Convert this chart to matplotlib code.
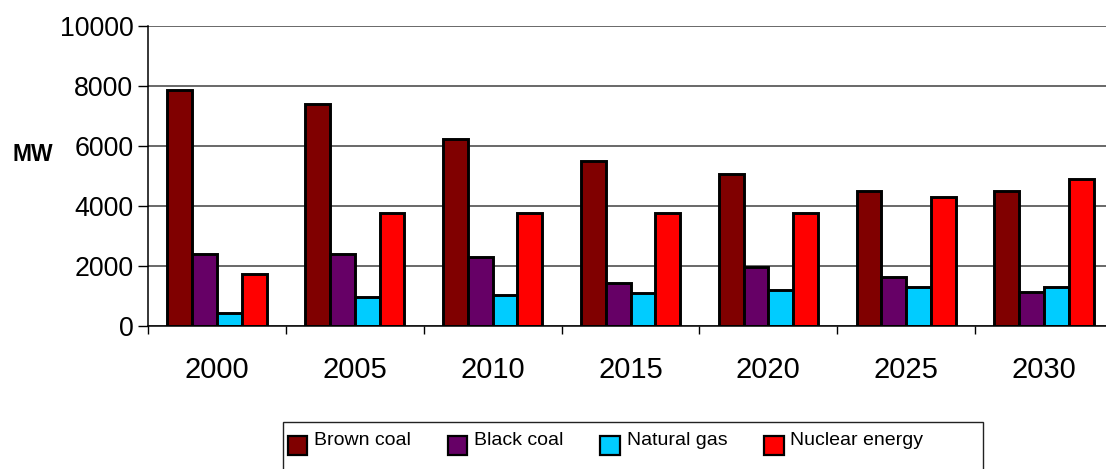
import matplotlib.pyplot as plt
import numpy as np
from matplotlib.patches import Patch, Rectangle
from matplotlib.legend_handler import HandlerPatch

plt.rcParams["font.family"] = ["Liberation Sans", "DejaVu Sans"]

years = ["2000", "2005", "2010", "2015", "2020", "2025", "2030"]
brown_coal = [7850, 7400, 6230, 5500, 5050, 4500, 4500]
black_coal = [2400, 2400, 2300, 1420, 1970, 1640, 1130]
natural_gas = [420, 970, 1030, 1100, 1190, 1300, 1300]
nuclear = [1730, 3750, 3750, 3750, 3750, 4300, 4900]

series = [
    ("Brown coal", brown_coal, "#800000"),
    ("Black coal", black_coal, "#660066"),
    ("Natural gas", natural_gas, "#00CCFF"),
    ("Nuclear energy", nuclear, "#FF0000"),
]

W, H = 1106, 469
fig = plt.figure(figsize=(W / 100, H / 100), dpi=100)
# plot area runs slightly past the right edge of the figure
ax = fig.add_axes([148 / W, 143.3 / H, 965 / W, 299.7 / H])

x = np.arange(len(years))
bw = 0.18
for i, (name, vals, col) in enumerate(series):
    ax.bar(x + (i - 1.5) * bw, vals, bw, color=col, edgecolor="black",
           linewidth=2.1, zorder=3, label=name)

ax.set_xlim(-0.5, len(years) - 0.5)
ax.set_ylim(0, 10000)
ax.set_yticks(np.arange(0, 10001, 2000))
ax.tick_params(axis="y", labelsize=19.3, length=7, width=1, pad=3.5, direction="out")

# boundary ticks between categories, year labels centred
ax.set_xticks(np.arange(-0.5, len(years), 1.0))
ax.set_xticklabels([])
ax.tick_params(axis="x", which="major", length=6, width=1, direction="out")
ax.set_xticks(x, years, minor=True)
ax.tick_params(axis="x", which="minor", length=0, labelsize=21, pad=22)

ax.yaxis.grid(True, color="#404040", linewidth=1.1, zorder=0)
ax.set_axisbelow(True)
for s in ("top", "right"):
    ax.spines[s].set_visible(False)
for s in ("left", "bottom"):
    ax.spines[s].set_linewidth(1.1)
    ax.spines[s].set_zorder(4)

fig.text(13 / W, 1 - 154 / H, "MW", fontsize=16.5, fontweight="bold",
         ha="left", va="center")


def low_square(legend, orig_handle, xdescent, ydescent, width, height, fontsize):
    return Rectangle((-xdescent, -ydescent - 5), width, height)


handles = [Patch(facecolor=c, edgecolor="black", linewidth=1.6, label=n)
           for n, _, c in series]
leg = fig.legend(handles=handles, ncol=4, loc="upper left",
                 bbox_to_anchor=(278 / W, 1 - 419 / H), frameon=False,
                 fontsize=14, handlelength=1.0, handleheight=1.15,
                 handletextpad=0.35, columnspacing=1.9, borderpad=0.0,
                 handler_map={Patch: HandlerPatch(patch_func=low_square)})

fig.patches.append(Rectangle((282.7 / W, -0.05), 700 / W, 1 - 421.7 / H + 0.05,
                             transform=fig.transFigure, fill=False,
                             edgecolor="#222222", linewidth=1.0))

fig.savefig("out.png", dpi=100)
